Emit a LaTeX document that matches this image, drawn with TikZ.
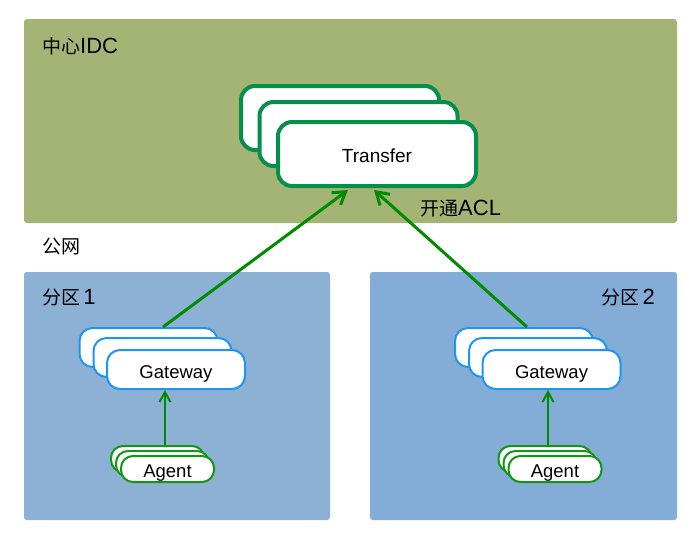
\documentclass[tikz,border=0pt]{standalone}
\usepackage{fontspec}
\setmainfont{Liberation Sans}
\newfontfamily\cjkfont{Noto Sans CJK SC}
\newcommand{\latpart}[1]{{\rmfamily\fontsize{22}{24}\selectfont #1}}
\usetikzlibrary{arrows.meta}
\definecolor{idcbg}{RGB}{164,180,116}
\definecolor{zoneA}{RGB}{141,176,213}
\definecolor{zoneB}{RGB}{131,172,214}
\definecolor{tgreen}{RGB}{6,143,75}
\definecolor{gblue}{RGB}{30,150,240}
\definecolor{agreen}{RGB}{20,150,20}
\definecolor{arrgreen}{RGB}{0,140,0}
\tikzset{
  region/.style={rounded corners=3pt},
  lbl/.style={font=\cjkfont\fontsize{19}{21}\selectfont, inner sep=0pt},
  tbox/.style={draw=tgreen, line width=4pt, fill=white, rounded corners=14pt,
    minimum width=198pt, minimum height=64pt, inner sep=0pt,
    text height=16pt, text depth=0pt,
    font=\fontsize{19}{21}\selectfont},
  gbox/.style={draw=gblue, line width=2pt, fill=white, rounded corners=13pt,
    minimum width=138pt, minimum height=39pt, inner sep=0pt,
    text height=17pt, text depth=0pt,
    font=\fontsize{18.5}{20}\selectfont},
  abox/.style={draw=agreen, line width=2pt, fill=white, rounded corners=12pt,
    minimum width=93pt, minimum height=26pt, inner sep=0pt,
    text height=16pt, text depth=0pt,
    font=\fontsize{18.5}{20}\selectfont},
  bigarr/.style={draw=arrgreen, line width=3pt, -{Straight Barb[length=12pt,width=15pt,line width=3pt]}},
  smallarr/.style={draw=arrgreen, line width=2pt, -{Straight Barb[length=10pt,width=11pt,line width=2pt]}},
}
\begin{document}
\begin{tikzpicture}[x=1pt,y=-1pt]
\useasboundingbox[fill=white] (0,0) rectangle (696,541);
% regions
\fill[region, idcbg] (24,19) rectangle (677,223);
\fill[region, zoneA] (24,272) rectangle (330,520);
\fill[region, zoneB] (370,272) rectangle (677,520);
% labels
\node[lbl, anchor=west] (lidc) at (42,46) {中心\latpart{IDC}};
\node[lbl, anchor=west] (lpub) at (42,246) {公网};
\node[lbl, anchor=west] (lz1) at (42,297) {分区\,\latpart{1}};
\node[lbl, anchor=east] (lz2) at (655,297) {分区\,\latpart{2}};
\node[lbl, anchor=west] (lacl) at (420,209) {开通\latpart{ACL}};
% transfer stack
\node[tbox] (tfb) at (340,118) {};
\node[tbox] (tfm) at (358.5,134) {};
\node[tbox] (tf) at (377,154) {Transfer};
% gateway left
\node[gbox] (gLb) at (148.5,347.5) {};
\node[gbox] (gLm) at (162.5,357.5) {};
\node[gbox] (gLf) at (176,369.5) {Gateway};
% gateway right
\node[gbox] (gRb) at (524,347.5) {};
\node[gbox] (gRm) at (538,357.5) {};
\node[gbox] (gRf) at (551.5,369.5) {Gateway};
% agent left
\node[abox] (aLb) at (157.5,459) {};
\node[abox] (aLm) at (162.5,464) {};
\node[abox] (aLf) at (167.5,469) {Agent};
% agent right
\node[abox] (aRb) at (545,459) {};
\node[abox] (aRm) at (550,464) {};
\node[abox] (aRf) at (555,469) {Agent};
% arrows
\draw[smallarr] ([xshift=7.5pt]aLb.north) -- ([xshift=-11pt]gLf.south);
\draw[smallarr] ([xshift=3pt]aRb.north) -- ([xshift=-3.5pt]gRf.south);
\draw[bigarr] ([xshift=14.5pt]gLb.north) -- ([xshift=-29pt,yshift=-2pt]tf.south);
\draw[bigarr] ([xshift=3pt]gRb.north) -- ([xshift=-3pt,yshift=-2pt]tf.south);
\end{tikzpicture}
\end{document}
